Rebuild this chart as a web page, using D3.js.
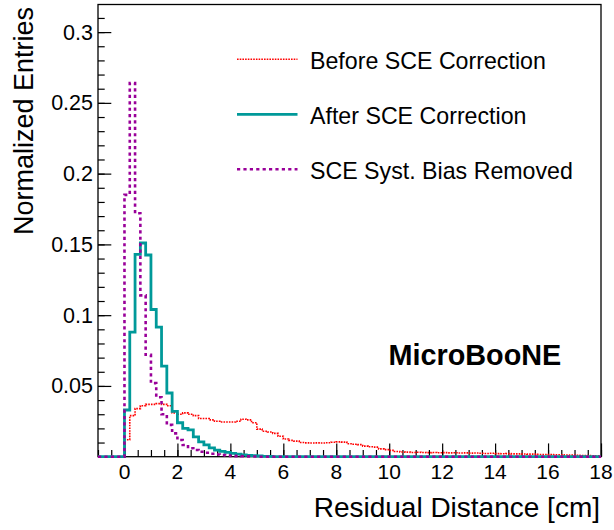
<!DOCTYPE html>
<html>
<head>
<meta charset="utf-8">
<script src="https://cdn.jsdelivr.net/npm/d3@7"></script>
<style>
  html, body { margin: 0; padding: 0; background: #fff; }
  svg { display: block; font-family: "Liberation Sans", Arial, Helvetica, sans-serif; }
</style>
</head>
<body>
<svg id="chart" width="614" height="530"></svg>
<script>
// ---- data (bin width 0.2 cm, first bin starts at 0) ----
const binWidth = 0.2;
const binStart = 0;
const xTicks = [0, 2, 4, 6, 8, 10, 12, 14, 16, 18];
const yTicks = [0.05, 0.1, 0.15, 0.2, 0.25, 0.3];
const seriesNames = ["Before SCE Correction", "After SCE Correction", "SCE Syst. Bias Removed"];

const beforeSCE = [
  0.012, 0.029, 0.034, 0.036, 0.037, 0.037, 0.0375, 0.037, 0.036, 0.031,
  0.030, 0.031, 0.030, 0.029, 0.027, 0.027, 0.026, 0.025, 0.0245, 0.0245,
  0.0245, 0.025, 0.0265, 0.026, 0.024, 0.0195, 0.018, 0.0175, 0.0165, 0.0145,
  0.0125, 0.0115, 0.011, 0.010, 0.0098, 0.0097, 0.0098, 0.0097, 0.0099, 0.0102,
  0.0105, 0.0103, 0.0092, 0.0088, 0.0085, 0.0075, 0.0070, 0.0068, 0.0055, 0.0050,
  0.0045, 0.0037, 0.0033, 0.0032, 0.0030, 0.0031, 0.0030, 0.0029, 0.0030, 0.0028,
  0.0029, 0.0027, 0.0028, 0.0026, 0.0027, 0.0025, 0.0026, 0.0024, 0.0023, 0.0024,
  0.0022, 0.0021, 0.0022, 0.0020, 0.0020, 0.0019, 0.0018, 0.0018, 0.0016, 0.0016,
  0.0015, 0.0014, 0.0014, 0.0012, 0.0011, 0.0010, 0.0009, 0.0008, 0.0007, 0.0006
];
const afterSCE = [
  0.033, 0.088, 0.143, 0.151, 0.1425, 0.104, 0.0915, 0.064, 0.045, 0.032,
  0.024, 0.020, 0.019, 0.014, 0.0105, 0.0083, 0.0063, 0.0047, 0.0038, 0.0030,
  0.0023, 0.0018, 0.0013, 0.0009, 0.0007, 0.0005, 0.0003, 0.0002, 0.0001
];
const biasRemoved = [
  0.185, 0.264, 0.172, 0.114, 0.072, 0.052, 0.042, 0.030, 0.0225, 0.0165,
  0.0118, 0.0083, 0.0060, 0.0047, 0.0035, 0.0028, 0.0021, 0.0016, 0.0012, 0.0009,
  0.0006, 0.0004, 0.0003, 0.0002, 0.0001
];

// ---- layout ----
const frame = { left: 98, right: 601, top: 4.5, bottom: 456.7 };
const xDomain = [-1, 18];
const yDomain = [0, 0.3195];

const svg = d3.select("#chart");
const x = d3.scaleLinear().domain(xDomain).range([frame.left, frame.right]);
const y = d3.scaleLinear().domain(yDomain).range([frame.bottom, frame.top]);

// frame box
svg.append("rect")
  .attr("x", frame.left).attr("y", frame.top)
  .attr("width", frame.right - frame.left).attr("height", frame.bottom - frame.top)
  .attr("fill", "none").attr("stroke", "#000").attr("stroke-width", 1.3);

// axes with inward ticks
const xMinor = d3.range(-1, 18.001, 0.5);
const yMinor = d3.range(0, 0.31001, 0.01);

const xAxisMinor = d3.axisTop(x).tickValues(xMinor).tickSize(6.7).tickFormat("");
svg.append("g").attr("transform", `translate(0,${frame.bottom})`).call(xAxisMinor)
  .call(g => g.select(".domain").remove())
  .call(g => g.selectAll("line").attr("stroke", "#000").attr("stroke-width", 1.2));
const xAxisMajor = d3.axisTop(x).tickValues(xTicks).tickSize(13.3).tickFormat("");
svg.append("g").attr("transform", `translate(0,${frame.bottom})`).call(xAxisMajor)
  .call(g => g.select(".domain").remove())
  .call(g => g.selectAll("line").attr("stroke", "#000").attr("stroke-width", 1.2));

const yAxisMinor = d3.axisRight(y).tickValues(yMinor).tickSize(6.7).tickFormat("");
svg.append("g").attr("transform", `translate(${frame.left},0)`).call(yAxisMinor)
  .call(g => g.select(".domain").remove())
  .call(g => g.selectAll("line").attr("stroke", "#000").attr("stroke-width", 1.2));
const yAxisMajor = d3.axisRight(y).tickValues(yTicks).tickSize(13.3).tickFormat("");
svg.append("g").attr("transform", `translate(${frame.left},0)`).call(yAxisMajor)
  .call(g => g.select(".domain").remove())
  .call(g => g.selectAll("line").attr("stroke", "#000").attr("stroke-width", 1.2));

// tick labels
svg.append("g").selectAll("text").data(xTicks).join("text")
  .attr("x", d => x(d)).attr("y", 478.5)
  .attr("text-anchor", "middle").attr("font-size", 21).attr("fill", "#000")
  .text(d => d);
svg.append("g").selectAll("text").data(yTicks).join("text")
  .attr("x", 93).attr("y", d => y(d) + 7.5)
  .attr("text-anchor", "end").attr("font-size", 21.5).attr("fill", "#000")
  .text(d => d3.format("")(d));

// axis titles
svg.append("text").attr("x", 600).attr("y", 516.7)
  .attr("text-anchor", "end").attr("font-size", 28).attr("fill", "#000")
  .text("Residual Distance [cm]");
svg.append("text").attr("transform", "translate(33.3,7) rotate(-90)")
  .attr("text-anchor", "end").attr("font-size", 27).attr("fill", "#000")
  .text("Normalized Entries");

// histograms
function stepPoints(vals) {
  const pts = [[xDomain[0], 0], [binStart, 0]];
  vals.forEach((v, i) => {
    const x0 = binStart + i * binWidth, x1 = x0 + binWidth;
    pts.push([x0, v], [x1, v]);
  });
  const end = binStart + vals.length * binWidth;
  pts.push([end, 0], [xDomain[1], 0]);
  return pts;
}
const line = d3.line().x(d => x(d[0])).y(d => y(d[1]));

svg.append("clipPath").attr("id", "clip").append("rect")
  .attr("x", frame.left).attr("y", frame.top)
  .attr("width", frame.right - frame.left).attr("height", frame.bottom - frame.top + 2);

const styles = [
  { vals: beforeSCE,  color: "#ff0000", width: 1.6, dash: "1.6,1.1" },
  { vals: afterSCE,   color: "#009999", width: 2.8, dash: null },
  { vals: biasRemoved, color: "#990099", width: 2.6, dash: "3.2,3.2" }
];
const hg = svg.append("g").attr("clip-path", "url(#clip)");
styles.forEach(s => {
  hg.append("path").attr("d", line(stepPoints(s.vals)))
    .attr("fill", "none").attr("stroke", s.color).attr("stroke-width", s.width)
    .attr("stroke-dasharray", s.dash);
});

// legend
const legY = [59.3, 114.3, 169.3];
const leg = svg.append("g");
styles.forEach((s, i) => {
  leg.append("line").attr("x1", 237).attr("x2", 297.5).attr("y1", legY[i]).attr("y2", legY[i])
    .attr("stroke", s.color).attr("stroke-width", s.width).attr("stroke-dasharray", s.dash);
  leg.append("text").attr("x", 310).attr("y", legY[i] + 9.5)
    .attr("font-size", 23.2).attr("fill", "#000").text(seriesNames[i]);
});

// label
svg.append("text").attr("x", 388.5).attr("y", 365)
  .attr("font-size", 28.8).attr("font-weight", "bold").attr("fill", "#000")
  .text("MicroBooNE");
</script>
</body>
</html>
